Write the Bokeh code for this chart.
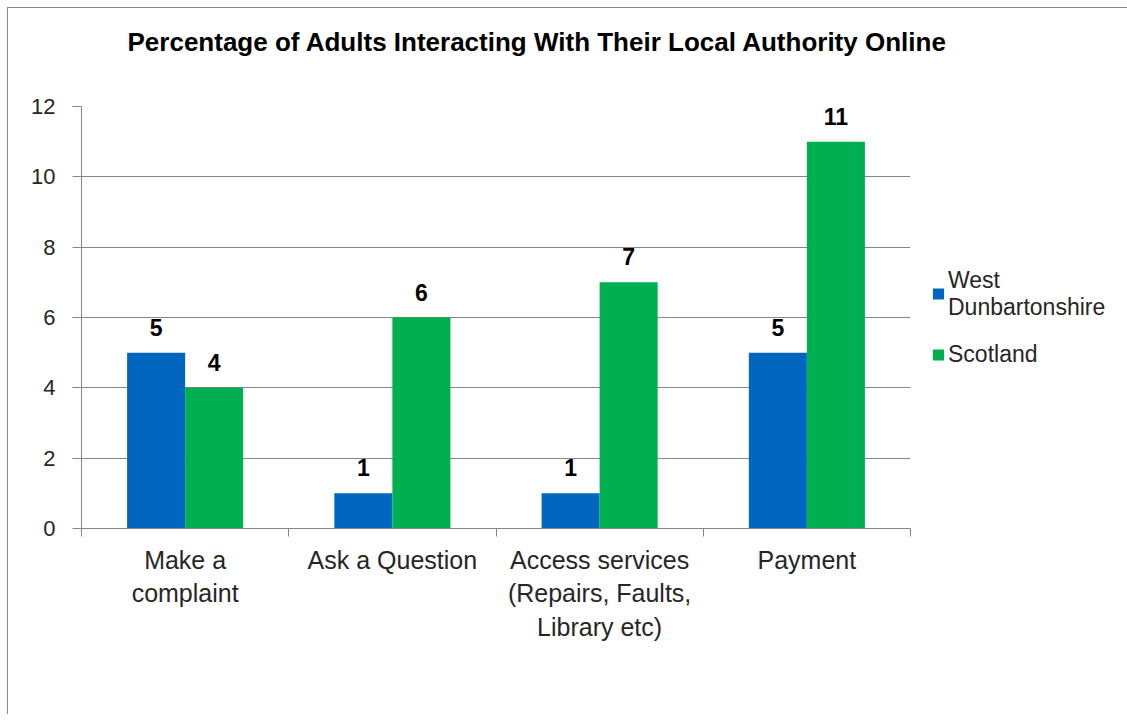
from bokeh.plotting import figure
from bokeh.models import (ColumnDataSource, Range1d, FixedTicker, Legend, LegendItem,
                          LabelSet, Title)
from bokeh.core.properties import value
from bokeh.embed import file_html
from bokeh.resources import INLINE

categories = ["Make a\ncomplaint", "Ask a Question",
              "Access services\n(Repairs, Faults,\nLibrary etc)", "Payment"]
west_dunbartonshire = [5, 1, 1, 5]
scotland = [4, 6, 7, 11]
series_names = ["West\nDunbartonshire", "Scotland"]
colors = ["#0066C0", "#00B050"]
y_ticks = [0, 2, 4, 6, 8, 10, 12]
title_text = "Percentage of Adults Interacting With Their Local Authority Online"

FONT = "Liberation Sans"
BAR_W = 0.28

centers = [i + 0.5 for i in range(len(categories))]
src_w = ColumnDataSource(dict(x=[c - BAR_W / 2 for c in centers], y=west_dunbartonshire,
                              lab=[str(v) for v in west_dunbartonshire]))
src_s = ColumnDataSource(dict(x=[c + BAR_W / 2 for c in centers], y=scotland,
                              lab=[str(v) for v in scotland]))

p = figure(frame_width=829, frame_height=422, output_backend="svg", toolbar_location=None,
           x_range=Range1d(0, len(categories)), y_range=Range1d(0, 12),
           min_border_left=73, min_border_right=209, min_border_top=98, min_border_bottom=186,
           styles={"border-top": "1px solid #8a8a8a", "border-left": "1px solid #8a8a8a",
                   "margin-left": "7px", "margin-top": "7px"})
# trailing blank line keeps the title higher above the plot area, as in the original
p.title = Title(text=title_text + "\n",
                text_font=FONT, text_font_size="26px", text_font_style="bold",
                text_color="#000000", align="left", offset=46, standoff=36,
                vertical_align="top")

r1 = p.vbar(x="x", top="y", width=BAR_W, source=src_w, color=colors[0], line_color=None)
r2 = p.vbar(x="x", top="y", width=BAR_W, source=src_s, color=colors[1], line_color=None)

for src in (src_w, src_s):
    p.add_layout(LabelSet(x="x", y="y", text="lab", source=src, text_align="center",
                          text_baseline="bottom", y_offset=17, text_font=value(FONT),
                          text_font_size=value("23px"), text_font_style="bold",
                          text_color="#000000"))

# axes
p.xaxis.ticker = FixedTicker(ticks=centers, minor_ticks=list(range(len(categories) + 1)))
p.xaxis.major_label_overrides = {c: lab for c, lab in zip(centers, categories)}
p.xaxis.major_tick_out = 0
p.xaxis.major_tick_in = 0
p.xaxis.minor_tick_out = 8
p.xaxis.minor_tick_in = 0
p.xaxis.minor_tick_line_color = "#868686"
p.xaxis.axis_line_color = "#868686"
p.xaxis.major_label_text_font = FONT
p.xaxis.major_label_text_font_size = "25px"
p.xaxis.major_label_text_color = "#262626"
p.xaxis.major_label_standoff = 9

p.yaxis.ticker = FixedTicker(ticks=y_ticks)
p.yaxis.major_tick_out = 9
p.yaxis.major_tick_in = 0
p.yaxis.minor_tick_line_color = None
p.yaxis.major_tick_line_color = "#868686"
p.yaxis.axis_line_color = "#868686"
p.yaxis.major_label_text_font = FONT
p.yaxis.major_label_text_font_size = "22px"
p.yaxis.major_label_text_color = "#262626"
p.yaxis.major_label_standoff = 17

p.xgrid.grid_line_color = None
p.ygrid.grid_line_color = "#868686"
p.ygrid.ticker = FixedTicker(ticks=y_ticks)
p.outline_line_color = None

legend = Legend(items=[LegendItem(label=series_names[0], renderers=[r1]),
                       LegendItem(label=series_names[1], renderers=[r2])],
                location="center_left", glyph_width=14, glyph_height=14,
                label_text_font=FONT, label_text_font_size="23px",
                label_text_line_height=1.25,
                label_text_color="#262626", label_standoff=3, spacing=20,
                padding=0, margin=21, border_line_color=None, background_fill_alpha=0)
p.add_layout(legend, "right")

open("out.html", "w").write(file_html(p, INLINE))
